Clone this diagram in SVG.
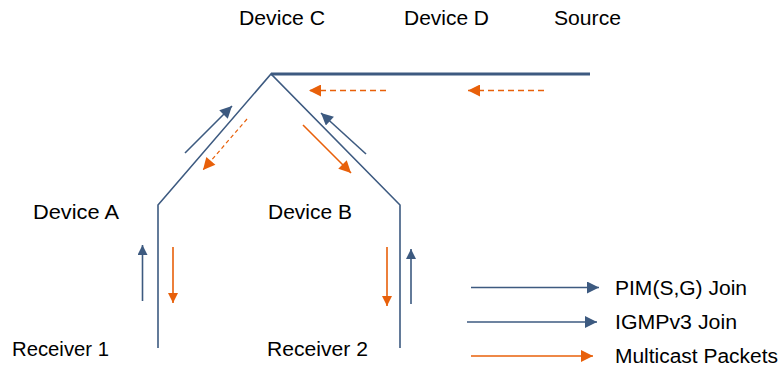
<svg xmlns="http://www.w3.org/2000/svg" width="780" height="367" viewBox="0 0 780 367">
<defs>
<style>
text{font-family:"Liberation Sans",Arial,sans-serif;font-size:19.5px;fill:#000}
.net{fill:none;stroke:#3d5a80;stroke-width:1.6}
.top{fill:none;stroke:#3d5a80;stroke-width:3}
.blue{fill:none;stroke:#3d5a80;stroke-width:1.6}
.org{fill:none;stroke:#e8600a;stroke-width:1.6}
.dash{stroke-dasharray:6,4}
</style>
<marker id="ab" viewBox="0 0 10 10" refX="10" refY="5" markerWidth="10" markerHeight="10" markerUnits="userSpaceOnUse" orient="auto"><path d="M0,0 L10,5 L0,10 z" fill="#3d5a80"/></marker>
<marker id="ao" viewBox="0 0 10 10" refX="10" refY="5" markerWidth="10" markerHeight="10" markerUnits="userSpaceOnUse" orient="auto"><path d="M0,0 L10,5 L0,10 z" fill="#e8600a"/></marker>
<marker id="abL" viewBox="0 0 10 10" refX="10" refY="5" markerWidth="13" markerHeight="12" markerUnits="userSpaceOnUse" orient="auto"><path d="M0,0 L10,5 L0,10 z" fill="#3d5a80"/></marker>
<marker id="aoL" viewBox="0 0 10 10" refX="10" refY="5" markerWidth="13" markerHeight="12" markerUnits="userSpaceOnUse" orient="auto"><path d="M0,0 L10,5 L0,10 z" fill="#e8600a"/></marker>
</defs>
<g id="device-c"><text x="239" y="25" textLength="86" lengthAdjust="spacingAndGlyphs">Device C</text></g>
<g id="device-d"><text x="404" y="25" textLength="85" lengthAdjust="spacingAndGlyphs">Device D</text></g>
<g id="source"><text x="554" y="25" textLength="67" lengthAdjust="spacingAndGlyphs">Source</text></g>
<g id="device-a"><text x="33" y="218.5" textLength="86" lengthAdjust="spacingAndGlyphs">Device A</text></g>
<g id="device-b"><text x="268" y="218.5" textLength="84" lengthAdjust="spacingAndGlyphs">Device B</text></g>
<g id="receiver-1"><text x="12" y="356" textLength="97" lengthAdjust="spacingAndGlyphs">Receiver 1</text></g>
<g id="receiver-2"><text x="267" y="356" textLength="101" lengthAdjust="spacingAndGlyphs">Receiver 2</text></g>
<g id="connectors">
<polyline class="net" points="158,348 158,205 271,74 400,205 400,348"/>
<line class="top" x1="271" y1="74" x2="590" y2="74"/>
<line class="blue" x1="185" y1="153" x2="232" y2="106" marker-end="url(#abL)"/>
<line class="org dash" x1="247" y1="119" x2="203" y2="170" marker-end="url(#aoL)" style="stroke-width:1.2;stroke-dasharray:4,3"/>
<line class="org" x1="303" y1="125" x2="351" y2="173" marker-end="url(#aoL)"/>
<line class="blue" x1="366" y1="154" x2="321" y2="113" marker-end="url(#abL)"/>
<line class="org dash" x1="386" y1="90.5" x2="309" y2="90.5" marker-end="url(#aoL)"/>
<line class="org dash" x1="544" y1="90.5" x2="468" y2="90.5" marker-end="url(#aoL)"/>
<line class="blue" x1="142.5" y1="301" x2="142.5" y2="245" marker-end="url(#ab)"/>
<line class="org" x1="173" y1="247" x2="173" y2="303" marker-end="url(#ao)"/>
<line class="org" x1="387" y1="247" x2="387" y2="306" marker-end="url(#ao)"/>
<line class="blue" x1="411" y1="304" x2="411" y2="249" marker-end="url(#ab)"/>
</g>
<g id="legend">
<line class="blue" x1="471" y1="287.5" x2="599" y2="287.5" marker-end="url(#abL)"/>
<line class="blue" x1="467" y1="322" x2="597" y2="322" marker-end="url(#abL)"/>
<line class="org" x1="471" y1="356" x2="593" y2="356" marker-end="url(#aoL)"/>
<text x="615" y="295" textLength="132" lengthAdjust="spacingAndGlyphs">PIM(S,G) Join</text>
<text x="615" y="329" textLength="122" lengthAdjust="spacingAndGlyphs">IGMPv3 Join</text>
<text x="615" y="363" textLength="163" lengthAdjust="spacingAndGlyphs">Multicast Packets</text>
</g>
</svg>
